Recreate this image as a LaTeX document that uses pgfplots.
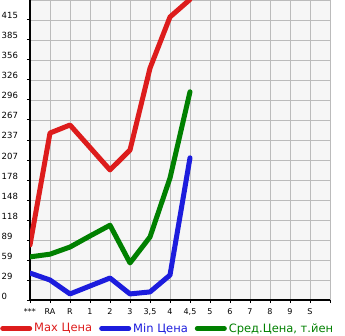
\documentclass[border=0pt]{standalone}
\usepackage{fontspec}
\setmainfont{DejaVu Sans}
\usepackage{pgfplots}
\pgfplotsset{compat=1.18}
\definecolor{cred}{HTML}{DD1C1C}
\definecolor{cblue}{HTML}{1C1CDD}
\definecolor{cgreen}{HTML}{008000}
\definecolor{bgc}{HTML}{F6F6F6}
\definecolor{gridc}{HTML}{BBBBBB}
\begin{document}
\begin{tikzpicture}[x=1pt,y=1pt]
\begin{axis}[
  at={(0,0)}, anchor=origin,
  scale only axis, width=300pt, height=300pt,
  xmin=0, xmax=15, ymin=0, ymax=445.2,
  axis background/.style={fill=bgc},
  axis x line*=bottom, axis y line*=left,
  axis line style={line width=2.2pt,-},
  grid=major, major grid style={gridc, line width=0.9pt},
  xtick={0,...,15},
  xticklabels={***,RA,R,1,2,3,{3,5},4,{4,5},5,6,7,8,9,S,},
  ytick={0,29.68,59.36,89.04,118.72,148.4,178.08,207.76,237.44,267.12,296.8,326.48,356.16,385.84,415.52,445.2},
  yticklabels={0,29,59,89,118,148,178,207,237,267,296,326,356,385,415,},
  tick style={black, line width=1pt},
  tick align=outside,
  major tick length=3pt,
  /pgf/number format/assume math mode=true,
  xticklabel style={font=\fontsize{8}{9}\selectfont, inner sep=0pt, yshift=-5pt},
  yticklabel style={font=\fontsize{8.5}{9}\selectfont, anchor=base west, inner sep=0pt, xshift=-25.5pt, yshift=1pt},
  clip mode=individual,
  legend columns=3,
  legend style={draw=none, fill=none, at={(-30pt,-28.5pt)}, anchor=west, font=\fontsize{11.5}{13}\selectfont,
    /tikz/every even column/.append style={column sep=5pt}, inner sep=0pt, row sep=0pt},
  legend cell align=left,
  legend image code/.code={\path (0,0) -- (27pt,0); \draw[#1, line width=5pt, line cap=round] (2.5pt,0) -- (19.5pt,0);},
]
\addplot[cred, line width=5pt, line join=round, line cap=round] coordinates {
  (0,81.6) (1,247.8) (2,259.7) (4,193) (5,222.6) (6,344) (7,420) (8,446)};
\addlegendentry{\textcolor{cred}{Max Цена}}
\addplot[cblue, line width=5pt, line join=round, line cap=round] coordinates {
  (0,40) (1,29.7) (2,9) (4,32.6) (5,9) (6,12) (7,37) (8,211)};
\addlegendentry{\textcolor{cblue}{Min Цена}}
\addplot[cgreen, line width=5pt, line join=round, line cap=round] coordinates {
  (0,64) (1,68) (2,78.6) (3,95) (4,111) (5,55) (6,93.5) (7,181) (8,309)};
\addlegendentry{\textcolor{cgreen}{Сред.Цена, т.йен}}
\end{axis}
\pgfresetboundingbox
\path[use as bounding box] (-30pt,-35pt) rectangle (315pt,300pt);
\end{tikzpicture}
\end{document}
